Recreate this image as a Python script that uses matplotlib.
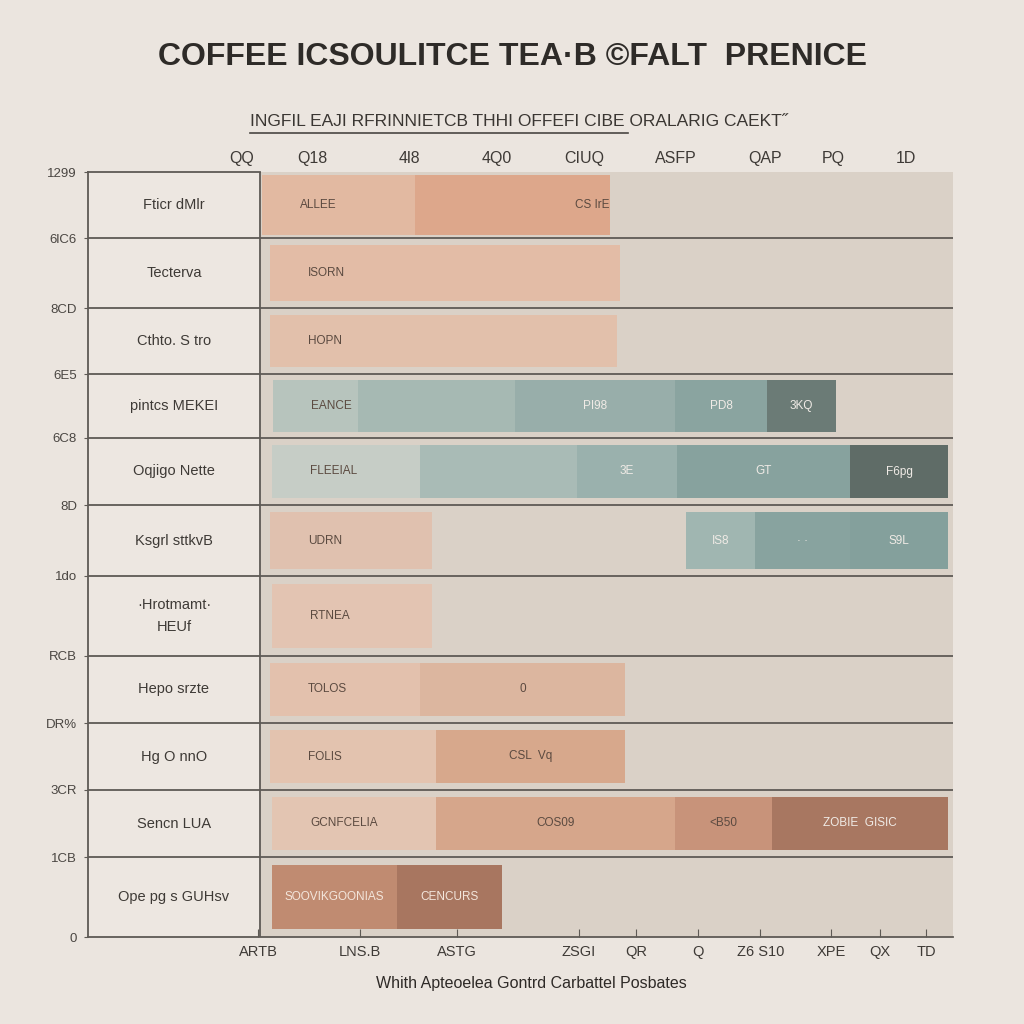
import matplotlib.pyplot as plt

# ---- data (x in 0-100 units across the bar area) ----
row_names = ["Fticr dMlr", "Tecterva", "Cthto. S tro", "pintcs MEKEI", "Oqjigo Nette",
             "Ksgrl sttkvB", "\u00b7Hrotmamt\u00b7\nHEUf", "Hepo srzte", "Hg O nnO",
             "Sencn LUA", "Ope pg s GUHsv"]
row_ticks = ["1299", "6lC6", "8CD", "6E5", "6C8", "8D", "1do", "RCB", "DR%", "3CR", "1CB", "0"]

# each row: list of (start, end) segments
segments = [
    [(0.3, 22.4), (22.4, 50.5)],
    [(1.4, 51.9)],
    [(1.4, 51.5)],
    [(1.9, 14.1), (14.1, 36.8), (36.8, 59.9), (59.9, 73.2), (73.2, 83.1)],
    [(1.7, 23.1), (23.1, 45.7), (45.7, 60.2), (60.2, 85.1), (85.1, 99.3)],
    [(1.4, 24.8), (61.5, 71.4), (71.4, 85.1), (85.1, 99.3)],
    [(1.7, 24.8)],
    [(1.4, 23.1), (23.1, 52.7)],
    [(1.4, 25.4), (25.4, 52.7)],
    [(1.7, 25.4), (25.4, 59.9), (59.9, 73.9), (73.9, 99.3)],
    [(1.7, 19.8), (19.8, 34.9)],
]
seg_labels = [
    ["ALLEE", "CS IrE"],
    ["ISORN"],
    ["HOPN"],
    ["EANCE", "", "PI98", "PD8", "3KQ"],
    ["FLEEIAL", "", "3E", "GT", "F6pg"],
    ["UDRN", "IS8", "\u00b7 \u00b7", "S9L"],
    ["RTNEA"],
    ["TOLOS", "0"],
    ["FOLIS", "CSL  Vq"],
    ["GCNFCELIA", "COS09", "<B50", "ZOBIE  GISIC"],
    ["SOOVIKGOONIAS", "CENCURS"],
]
seg_colors = [
    ["#e2b9a1", "#dda78b"],
    ["#e3bca6"],
    ["#e2c0ab"],
    ["#b7c4bd", "#a6b9b3", "#98aeaa", "#8aa4a0", "#6b7b76"],
    ["#c6cdc6", "#a9bbb6", "#9ab1ad", "#87a29e", "#5f6c67"],
    ["#e0c1af", "#a0b6b1", "#88a39f", "#84a09c"],
    ["#e3c4b2"],
    ["#e3c1ad", "#dcb69f"],
    ["#e3c3af", "#d7a88c"],
    ["#e3c5b2", "#d6a68b", "#c8937a", "#a87761"],
    ["#c08b71", "#a87660"],
]

top_ticks = [-2.6, 7.6, 21.6, 34.2, 46.8, 60.0, 72.9, 82.7, 93.2]
top_labels = ["QQ", "Q18", "4l8", "4Q0", "CIUQ", "ASFP", "QAP", "PQ", "1D"]
bot_ticks = [-0.3, 14.4, 28.4, 46.0, 54.3, 63.2, 72.2, 82.4, 89.5, 96.1]
bot_labels = ["ARTB", "LNS.B", "ASTG", "ZSGI", "QR", "Q", "Z6 S10", "XPE", "QX", "TD"]

# layout: row heights in px (uneven in the picture)
row_h = [66, 70, 66, 64, 67, 71, 80, 67, 67, 67, 80]

plt.rcParams['font.family'] = ['Liberation Sans', 'DejaVu Sans']

bg = "#ebe5df"
line_c = "#5e5a55"
fig = plt.figure(figsize=(10.24, 10.24), dpi=100, facecolor=bg)
W = H = 1024.0
left, right, top, bottom = 88, 953, 172, 937
ax = fig.add_axes([left / W, 1 - bottom / H, (right - left) / W, (bottom - top) / H])
ax.set_facecolor("#ede7e1")
xmin = -(260 - left) / ((right - 260) / 100.0)
ax.set_xlim(xmin, 100)

edges = [0]
for h in row_h:
    edges.append(edges[-1] + h)
ax.set_ylim(edges[-1], 0)

# bar area background
ax.axvspan(0, 100, color="#dad1c7", zorder=0)

for i in range(len(row_names)):
    y0, y1 = edges[i], edges[i + 1]
    hgt = y1 - y0
    pad = 0.1 * hgt if i > 0 else 0.05 * hgt
    yc = (y0 + y1) / 2
    for (s, e), c, lab in zip(segments[i], seg_colors[i], seg_labels[i]):
        ax.barh(yc, e - s, left=s, height=hgt - 2 * pad, color=c, zorder=2, linewidth=0)
        if not lab:
            continue
        dark = c in ("#6b7b76", "#5f6c67", "#a87761", "#a87660", "#c08b71")
        teal = c.startswith("#8") or c.startswith("#9") or c.startswith("#a0")
        if s < 5:
            tx, ha = s + 5.5, "left"
        else:
            tx, ha = (s + e) / 2, "center"
        if i in (0, 1, 2) and lab != seg_labels[i][0]:
            tx = e - 2.5
        col = "#f0ebe6" if (dark or teal) else "#5b4a40"
        if i == 10:
            col = "#f3e6dc"
            tx, ha = (s + e) / 2, "center"
        ax.text(tx, yc, lab, ha=ha, va="center", fontsize=8.5, color=col, zorder=3)
    # row name in the label column
    ax.text(xmin / 2, yc, row_names[i], ha="center", va="center", fontsize=10.5,
            color="#3e3a36", linespacing=1.7)

for e in edges[1:-1]:
    ax.axhline(e, color=line_c, lw=1.3, zorder=4)
ax.axvline(0, color=line_c, lw=1.3, zorder=4)
ax.plot([xmin, 0], [0, 0], color=line_c, lw=1.3, zorder=4, clip_on=False)
for sp in ax.spines.values():
    sp.set_color(line_c)
    sp.set_linewidth(1.3)
ax.spines["right"].set_visible(False)
ax.spines["top"].set_visible(False)

ax.set_yticks(edges)
ax.set_yticklabels(row_ticks, fontsize=9.5, color="#4a4642")
ax.tick_params(axis="y", length=3, color=line_c, pad=5)

ax.set_xticks(bot_ticks)
ax.set_xticklabels(bot_labels, fontsize=10.5, color="#3e3a36")
ax.tick_params(axis="x", direction="in", length=6, color=line_c, pad=6)

ax2 = ax.secondary_xaxis("top")
ax2.set_xticks(top_ticks)
ax2.set_xticklabels(top_labels, fontsize=11.5, color="#3e3a36")
ax2.tick_params(length=0, pad=4)
ax2.spines["top"].set_visible(False)

ax.set_xlabel("Whith Apteoelea Gontrd Carbattel Posbates", fontsize=11.5, color="#2e2a27",
              labelpad=12, x=0.512)

fig.text(0.5, 1 - 57 / H, "COFFEE ICSOULITCE TEA\u00b7B \u00a9FALT  PRENICE", ha="center",
         va="center", fontsize=23, fontweight="bold", color="#2e2b28")
fig.text(250 / W, 1 - 122 / H, "INGFIL EAJI RFRINNIETCB THHI OFFEFI CIBE ORALARIG CAEKT\u02dd",
         ha="left", va="center", fontsize=12.5, color="#3a3632")
fig.add_artist(plt.Line2D([250 / W, 628 / W], [1 - 133 / H, 1 - 133 / H], color="#4a4642", lw=1.2))

fig.savefig("out.png", dpi=100, facecolor=bg)
